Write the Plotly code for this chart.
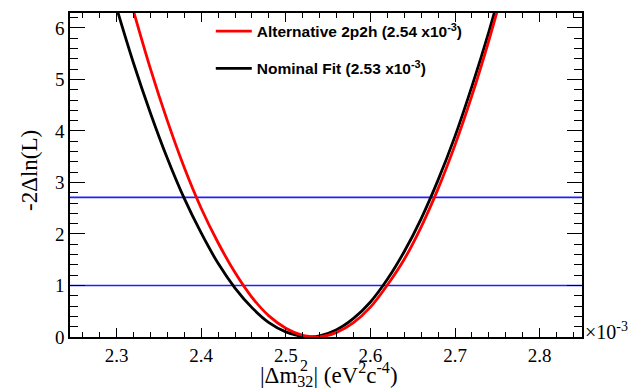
import plotly.graph_objects as go

# Likelihood scan in |dm^2_32| (units of 1e-3 eV^2 c^-4)
x_nominal = [2.30, 2.32, 2.34, 2.36, 2.38, 2.40, 2.42, 2.44, 2.46, 2.48, 2.50,
             2.52, 2.53, 2.54, 2.56, 2.58, 2.60, 2.62, 2.64, 2.66, 2.68, 2.70,
             2.72, 2.74, 2.76]
y_nominal = [6.39, 5.32, 4.35, 3.47, 2.69, 2.02, 1.43, 0.95, 0.57, 0.28, 0.10,
             0.01, 0.00, 0.02, 0.14, 0.36, 0.68, 1.12, 1.66, 2.30, 3.05, 3.90,
             4.87, 5.93, 7.10]

x_alt = [2.32, 2.34, 2.36, 2.38, 2.40, 2.42, 2.44, 2.46, 2.48, 2.50, 2.52,
         2.535, 2.54, 2.56, 2.58, 2.60, 2.62, 2.64, 2.66, 2.68, 2.70, 2.72,
         2.74, 2.76]
y_alt = [6.33, 5.21, 4.20, 3.29, 2.50, 1.83, 1.25, 0.77, 0.41, 0.17, 0.03,
         0.00, 0.00, 0.09, 0.28, 0.58, 1.01, 1.51, 2.14, 2.88, 3.73, 4.69,
         5.76, 6.94]

names = ["Nominal Fit (2.53 x10<sup>-3</sup>)",
         "Alternative 2p2h (2.54 x10<sup>-3</sup>)"]
colors = ["#000000", "#ff0000"]

# Reference Δχ² levels (1σ and 90% CL)
levels = [1.0, 2.71]

x_range = [2.245, 2.85]
y_range = [0.0, 6.29]

x_ticks = [2.3, 2.4, 2.5, 2.6, 2.7, 2.8]
y_ticks = [0, 1, 2, 3, 4, 5, 6]

fig = go.Figure()

for lv in levels:
    fig.add_trace(go.Scatter(x=x_range, y=[lv, lv], mode="lines",
                             line=dict(color="#2020ff", width=1.6),
                             showlegend=False, hoverinfo="skip"))

fig.add_trace(go.Scatter(x=x_nominal, y=y_nominal, mode="lines",
                         line=dict(color=colors[0], width=2.8, shape="spline"),
                         name="<b>" + names[0] + "</b>", legendgroup="nom",
                         legendrank=2))
fig.add_trace(go.Scatter(x=x_alt, y=y_alt, mode="lines",
                         line=dict(color=colors[1], width=2.8, shape="spline"),
                         name="<b>" + names[1] + "</b>", legendgroup="alt",
                         legendrank=1))

serif = "Liberation Serif, Times New Roman, serif"

axis_common = dict(
    showline=True, linecolor="#000000", linewidth=1.5, mirror="allticks",
    ticks="inside", tickcolor="#000000", tickwidth=1.2,
    showgrid=False, zeroline=False,
    tickfont=dict(family=serif, size=19, color="#000000"),
)

fig.update_xaxes(range=x_range, tickvals=x_ticks,
                 ticktext=[f"{v:.1f}" for v in x_ticks], ticklen=9,
                 minor=dict(dtick=0.02, tick0=2.3, ticks="inside", ticklen=5,
                            tickcolor="#000000", tickwidth=1.2, showgrid=False),
                 **axis_common)
fig.update_yaxes(range=y_range, tickvals=y_ticks,
                 ticktext=[str(v) for v in y_ticks], ticklen=15,
                 minor=dict(dtick=0.2, tick0=0, ticks="inside", ticklen=8,
                            tickcolor="#000000", tickwidth=1.2, showgrid=False),
                 **axis_common)

fig.update_layout(
    width=635, height=391,
    margin=dict(l=70, r=53, t=11, b=54),
    paper_bgcolor="#ffffff", plot_bgcolor="#ffffff",
    legend=dict(x=0.275, y=0.995, xanchor="left", yanchor="top",
                bgcolor="rgba(0,0,0,0)", borderwidth=0,
                font=dict(family="Liberation Sans, Arial, sans-serif",
                          size=15.5, color="#000000"),
                tracegroupgap=14, itemwidth=36),
    showlegend=True,
)

# axis titles; the squared exponent sits above the "32" subscript
fig.add_annotation(text="|Δm<sub>32</sub>| (eV<sup>2</sup>c<sup>-4</sup>)",
                   xref="paper", yref="paper", x=0.505, y=(337 - 375) / 326,
                   xanchor="center", yanchor="middle", showarrow=False,
                   font=dict(family=serif, size=23, color="#000000"))
fig.add_annotation(text="2", xref="paper", yref="paper",
                   x=(298 - 70) / 512, y=(337 - 366) / 326,
                   xanchor="left", yanchor="middle", showarrow=False,
                   font=dict(family=serif, size=16, color="#000000"))
fig.add_annotation(text="-2Δln(L)", xref="paper", yref="paper",
                   x=(29 - 70) / 512, y=(337 - 170) / 326, textangle=-90,
                   xanchor="center", yanchor="middle", showarrow=False,
                   font=dict(family=serif, size=23, color="#000000"))
fig.add_annotation(text="×10<sup>-3</sup>", xref="paper", yref="paper",
                   x=1.0, y=0.02, xanchor="left", yanchor="middle",
                   xshift=1, showarrow=False,
                   font=dict(family=serif, size=20, color="#000000"))

fig.write_html("out.html")
